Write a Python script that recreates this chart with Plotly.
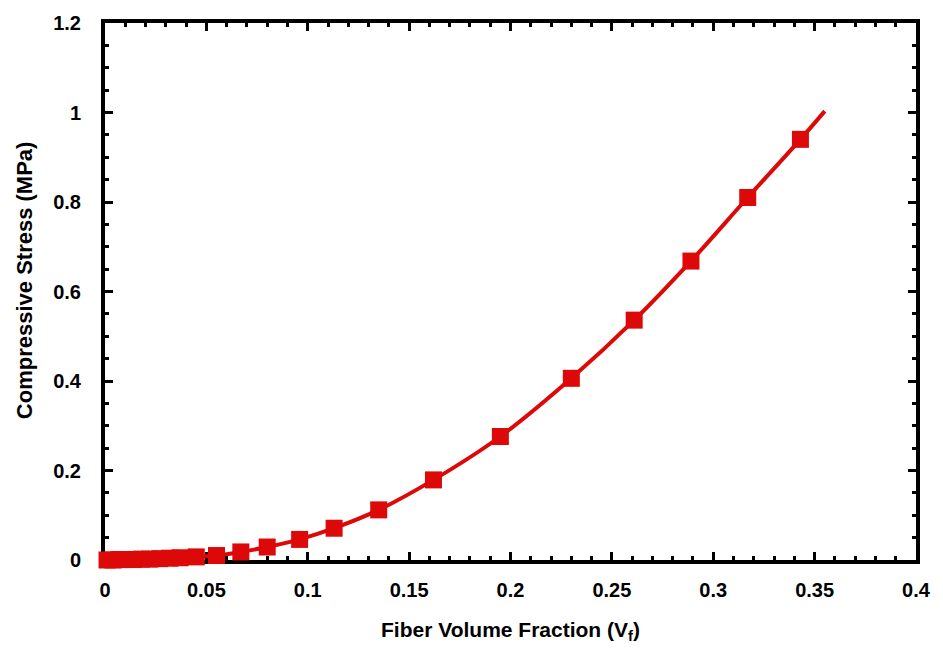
import plotly.graph_objects as go

# Marker data
vf_pts = [0.001, 0.004, 0.007, 0.010, 0.014, 0.018, 0.022, 0.027, 0.032, 0.037,
          0.045, 0.055, 0.067, 0.080, 0.096, 0.113, 0.135, 0.162, 0.195, 0.230,
          0.261, 0.289, 0.317, 0.343]
stress_pts = [0.000, 0.000, 0.001, 0.001, 0.001, 0.002, 0.002, 0.003, 0.004, 0.005,
              0.007, 0.010, 0.018, 0.029, 0.046, 0.071, 0.112, 0.179, 0.276, 0.406,
              0.536, 0.668, 0.810, 0.940]

# Curve (includes the origin and the end point without a marker)
vf_line = [0.0] + vf_pts + [0.355]
stress_line = [0.0] + stress_pts + [1.003]

red = "#dd0808"
font_family = "Liberation Sans, Arial, sans-serif"

fig = go.Figure()
fig.add_trace(go.Scatter(x=vf_line, y=stress_line, mode="lines",
                         line=dict(color=red, width=4, shape="spline"),
                         cliponaxis=False, showlegend=False, hoverinfo="skip"))
fig.add_trace(go.Scatter(x=vf_pts, y=stress_pts, mode="markers",
                         marker=dict(symbol="square", size=17, color=red),
                         cliponaxis=False, showlegend=False))

axis_common = dict(
    showline=True, linewidth=4, linecolor="black", mirror="allticks",
    ticks="inside", ticklen=8, tickwidth=3, tickcolor="black",
    showgrid=False, zeroline=False, layer="below traces",
    tickfont=dict(family=font_family, size=20, color="black", weight="bold"),
)

fig.update_xaxes(range=[0, 0.4], dtick=0.05,
                 minor=dict(dtick=0.01, ticks="inside", ticklen=4, tickwidth=3, tickcolor="black"),
                 ticklabelstandoff=9,
                 title=dict(text="<b>Fiber Volume Fraction (V<sub>f</sub>)</b>",
                            font=dict(family=font_family, size=21, color="black"),
                            standoff=23),
                 **axis_common)
fig.update_yaxes(range=[0, 1.2], dtick=0.2,
                 minor=dict(dtick=0.05, ticks="inside", ticklen=4, tickwidth=3, tickcolor="black"),
                 ticklabelstandoff=16,
                 **axis_common)

fig.add_annotation(text="<b>Compressive Stress (MPa)</b>", textangle=-90,
                   xref="paper", yref="paper", x=(24 - 105) / 816, y=(560 - 276) / 544,
                   xanchor="center", yanchor="middle", showarrow=False,
                   font=dict(family=font_family, size=22, color="black"))

fig.update_layout(width=943, height=651,
                  margin=dict(l=105, r=22, t=16, b=91),
                  plot_bgcolor="white", paper_bgcolor="white")

fig.write_html("out.html")
